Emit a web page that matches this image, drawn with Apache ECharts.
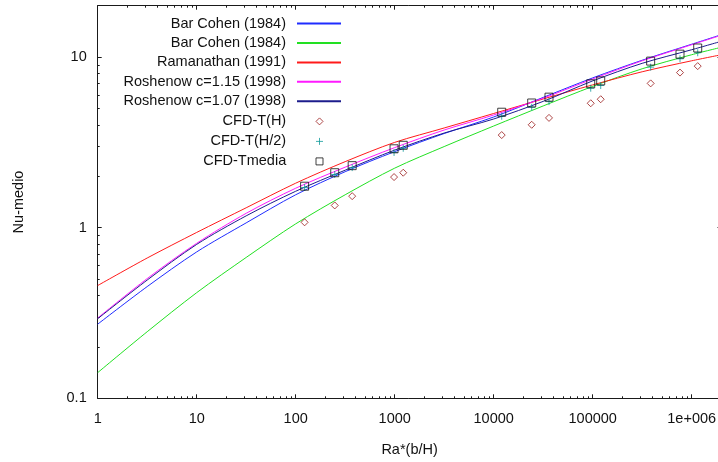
<!DOCTYPE html>
<html><head><meta charset="utf-8">
<script src="https://cdn.jsdelivr.net/npm/echarts@6/dist/echarts.min.js"></script>
<style>html,body{margin:0;padding:0;background:#fff}#c{width:718px;height:462px}</style>
</head><body><div id="c"></div>
<script>
// ---- data ----
const ra = [1, 3.16, 10, 31.6, 100, 316, 1000, 3160, 10000, 31600, 100000, 316000, 1000000, 2000000];
const barCohenBlue  = [0.272, 0.4515, 0.721, 1.067, 1.559, 2.129, 2.792, 3.563, 4.455, 5.80, 7.55, 9.58, 11.89, 13.53];
const barCohenGreen = [0.1414, 0.2455, 0.416, 0.669, 1.053, 1.559, 2.233, 2.988, 3.944, 5.17, 6.73, 8.54, 10.32, 11.42];
const ramanathan    = [0.458, 0.664, 0.938, 1.308, 1.823, 2.438, 3.162, 3.84, 4.67, 5.68, 6.87, 8.20, 9.51, 10.32];
const roshenow115   = [0.2955, 0.503, 0.810, 1.214, 1.703, 2.263, 2.947, 3.736, 4.577, 5.74, 7.44, 9.51, 11.81, 13.43];
const roshenow107   = [0.2927, 0.493, 0.798, 1.173, 1.635, 2.173, 2.849, 3.587, 4.335, 5.50, 7.25, 9.19, 11.04, 12.38];

const cfdRa     = [123, 248, 372, 985, 1220, 12050, 24200, 36200, 95500, 120500, 385000, 762000, 1150000];
const cfdTH     = [1.075, 1.35, 1.53, 1.98, 2.10, 3.49, 4.01, 4.40, 5.36, 5.66, 7.01, 8.11, 8.85];
const cfdTH2    = [1.72, 2.05, 2.25, 2.76, 2.92, 4.50, 5.08, 5.48, 6.57, 6.81, 8.73, 9.77, 10.6];
const cfdTmedia = [1.75, 2.10, 2.31, 2.90, 3.04, 4.75, 5.38, 5.82, 6.97, 7.25, 9.47, 10.4, 11.3];

const lineNames = ['Bar Cohen (1984)', 'Bar Cohen (1984)\u200B', 'Ramanathan (1991)',
  'Roshenow c=1.15 (1998)', 'Roshenow c=1.07 (1998)'];
const pointNames = ['CFD-T(H)', 'CFD-T(H/2)', 'CFD-Tmedia'];

const xTickValues = [1, 10, 100, 1000, 10000, 100000, 1000000];
const xTickLabels = ['1', '10', '100', '1000', '10000', '100000', '1e+006'];
const yTickValues = [0.1, 1, 10];
const yTickLabels = ['0.1', '1', '10'];
const xName = 'Ra*(b/H)';
const yName = 'Nu-medio';

// ---- chart ----
const X_MIN = 1, X_MAX = 2000000, Y_MIN = 0.1, Y_MAX = 20;
function minorList(d0, d1, maxV) {
  const out = [];
  for (let d = d0; d <= d1; d++) for (let k = 2; k <= 9; k++) {
    const v = Number((k * Math.pow(10, d)).toPrecision(6));
    if (v < maxV) out.push(v);
  }
  return out;
}
const xMinor = minorList(0, 6, X_MAX);
const yMinor = minorList(-1, 1, Y_MAX);
const FONT = '"Liberation Sans", Arial, sans-serif';
const AX = '#1a1a1a';
const CLEAR = 'rgba(255,255,255,0)';
function labelFor(vals, labels) {
  return function (v) {
    for (let i = 0; i < vals.length; i++) if (Math.abs(Math.log10(v) - Math.log10(vals[i])) < 1e-6) return labels[i];
    return '';
  };
}
function xAxis(pos, major) {
  const a = {
    type: 'log', logBase: 10, min: X_MIN, max: X_MAX, position: pos, gridIndex: 0,
    axisLine: { show: major, onZero: false, lineStyle: { color: AX, width: 1 } },
    axisTick: { show: true, inside: true, length: major ? 4 : 2, customValues: major ? xTickValues : xMinor, lineStyle: { color: AX, width: 1 } },
    axisLabel: { show: major && pos === 'bottom', customValues: xTickValues, formatter: labelFor(xTickValues, xTickLabels),
      margin: 13, fontSize: 14.5, color: '#111', fontFamily: FONT },
    splitLine: { show: false }, minorTick: { show: false }, minorSplitLine: { show: false }
  };
  if (major && pos === 'bottom') {
    a.name = xName; a.nameLocation = 'middle'; a.nameGap = 44;
    a.nameTextStyle = { fontSize: 14.5, color: '#111', fontFamily: FONT };
  }
  return a;
}
function yAxis(pos, major) {
  const a = {
    type: 'log', logBase: 10, min: Y_MIN, max: Y_MAX, position: pos, gridIndex: 0,
    axisLine: { show: major, onZero: false, lineStyle: { color: AX, width: 1 } },
    axisTick: { show: true, inside: true, length: major ? 4 : 2, customValues: major ? yTickValues : yMinor, lineStyle: { color: AX, width: 1 } },
    axisLabel: { show: major && pos === 'left', customValues: yTickValues, formatter: labelFor(yTickValues, yTickLabels),
      margin: 11, fontSize: 14.5, color: '#111', fontFamily: FONT },
    splitLine: { show: false }, minorTick: { show: false }, minorSplitLine: { show: false }
  };
  if (major && pos === 'left') {
    a.name = yName; a.nameLocation = 'middle'; a.nameGap = 71;
    a.nameTextStyle = { fontSize: 14.5, color: '#111', fontFamily: FONT };
  }
  return a;
}
function lineSeries(name, ys, color) {
  return { type: 'line', name: name, xAxisIndex: 0, yAxisIndex: 0, data: ra.map((x, i) => [x, ys[i]]),
    symbol: 'none', smooth: 0.3, lineStyle: { color: color, width: 1 }, itemStyle: { color: color },
    silent: true, z: 2 };
}
const pointColors = ['#9a1a1a', '#109a9a', '#111111'];
function scatterSeries(name, ys, symbol, size, color) {
  return { type: 'scatter', name: name, xAxisIndex: 0, yAxisIndex: 0, data: cfdRa.map((x, i) => [x, ys[i]]),
    symbol: symbol, symbolSize: size, symbolKeepAspect: true,
    itemStyle: { color: CLEAR, borderColor: color, borderWidth: 1 }, silent: true, z: 3 };
}
const lineLegendStyle = { color: 'rgba(0,0,0,0)', borderWidth: 0, opacity: 0 };
const legendText = { fontSize: 14.5, color: '#111', fontFamily: FONT, lineHeight: 16 };
const option = {
  animation: false,
  backgroundColor: '#fff',
  grid: { left: 97.7, right: -3.5, top: 5.7, bottom: 63.7, outerBoundsMode: 'none', containLabel: false },
  xAxis: [xAxis('bottom', true), xAxis('bottom', false), xAxis('top', true), xAxis('top', false)],
  yAxis: [yAxis('left', true), yAxis('left', false), yAxis('right', true), yAxis('right', false)],
  legend: [{
    orient: 'vertical', align: 'right', right: 376, top: 15.5, padding: 0,
    itemWidth: 44, itemHeight: 8, itemGap: 3.45, selectedMode: false,
    textStyle: Object.assign({ padding: [0, 6, 0, 0] }, legendText),
    data: lineNames.map(n => ({ name: n, itemStyle: lineLegendStyle }))
  }, {
    orient: 'vertical', align: 'right', right: 394.5, top: 113.4, padding: 0,
    itemWidth: 7, itemHeight: 7, itemGap: 4, selectedMode: false,
    textStyle: Object.assign({ padding: [0, 24.8, 0, 0] }, legendText),
    data: pointNames.map((n, i) => ({ name: n, itemStyle: { color: CLEAR, borderColor: pointColors[i], borderWidth: 1 } }))
  }],
  series: [
    lineSeries(lineNames[0], barCohenBlue, '#1f2cff'),
    lineSeries(lineNames[1], barCohenGreen, '#22e022'),
    lineSeries(lineNames[2], ramanathan, '#ff1a1a'),
    lineSeries(lineNames[3], roshenow115, '#ff1aff'),
    lineSeries(lineNames[4], roshenow107, '#1c1c8c'),
    scatterSeries(pointNames[0], cfdTH, 'diamond', 7, pointColors[0]),
    scatterSeries(pointNames[1], cfdTH2, 'path://M0,5L10,5M5,0L5,10', 7, pointColors[1]),
    scatterSeries(pointNames[2], cfdTmedia, 'rect', 8, pointColors[2])
  ]
};
const chart = echarts.init(document.getElementById('c'), null, { renderer: 'canvas' });
chart.setOption(option);
</script>
</body></html>
